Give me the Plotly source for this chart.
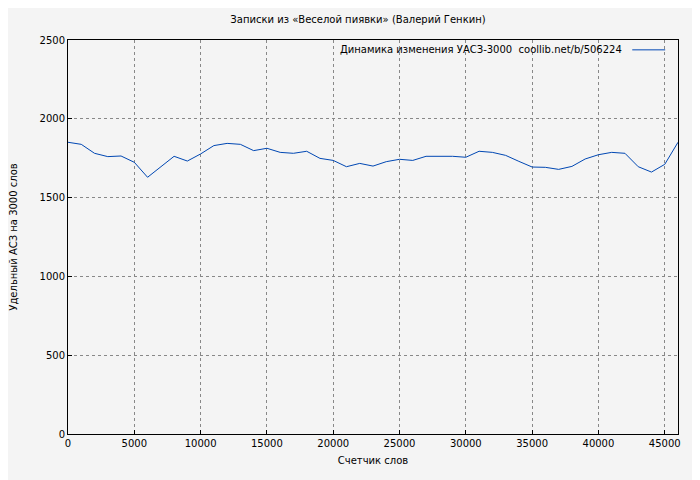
import plotly.graph_objects as go

x_words = list(range(0, 47000, 1000))
y_vals = [1851, 1838, 1781, 1760, 1764, 1724, 1629, 1696, 1762, 1732,
          1777, 1830, 1844, 1838, 1798, 1813, 1787, 1781, 1794, 1749,
          1736, 1696, 1717, 1700, 1728, 1743, 1736, 1762, 1762, 1762,
          1756, 1794, 1787, 1768, 1730, 1694, 1692, 1679, 1698, 1745,
          1772, 1787, 1781, 1696, 1662, 1711, 1851]
x_ticks = list(range(0, 50000, 5000))
y_ticks = list(range(0, 3000, 500))
legend_text = "Динамика изменения УАСЗ-3000  coollib.net/b/506224"

fig = go.Figure(go.Scatter(x=x_words, y=y_vals, mode="lines",
                           line=dict(color="#0047b3", width=1), showlegend=False))
ax = dict(showline=True, linecolor="black", linewidth=1, mirror=True, automargin=False,
          gridcolor="#888", griddash="dot", zeroline=False, ticks="inside",
          tickcolor="black", ticklen=4, tickfont=dict(size=10, color="black"))
fig.update_layout(
    width=700, height=480, paper_bgcolor="#f4f4f4", plot_bgcolor="#f4f4f4",
    margin=dict(l=60, r=30, t=32, b=54),
    font=dict(family="DejaVu Sans", size=10, color="black"),
    title=dict(text="Записки из «Веселой пиявки» (Валерий Генкин)", x=0.5, y=0.977,
               xanchor="center", yanchor="middle", font=dict(size=10)),
    xaxis=dict(ax, range=[0, 46000], tickvals=x_ticks, ticktext=[str(v) for v in x_ticks],
               title=dict(text="Счетчик слов", standoff=8, font=dict(size=10))),
    yaxis=dict(ax, range=[0, 2500], tickvals=y_ticks, ticktext=[str(v) for v in y_ticks],
               title=dict(text="Удельный АСЗ на 3000 слов", standoff=22, font=dict(size=10))),
    annotations=[dict(text=legend_text, xref="paper", yref="paper", x=0.911, y=0.975,
                      xanchor="right", yanchor="middle", showarrow=False, font=dict(size=10))],
    shapes=[dict(type="line", xref="paper", yref="paper", x0=0.925, x1=0.979, y0=0.975, y1=0.975,
                 line=dict(color="#0047b3", width=1))],
)
fig.write_html("out.html")
